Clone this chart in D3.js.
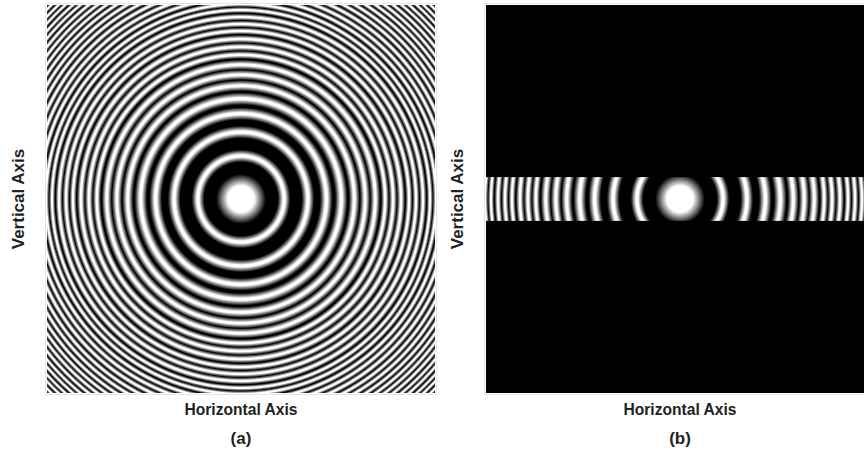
<!DOCTYPE html>
<html>
<head>
<meta charset="utf-8">
<script src="https://cdn.jsdelivr.net/npm/d3@7"></script>
<style>
  body { margin: 0; background: #fff; }
  svg { display: block; }
  text { font-family: "Liberation Sans", Arial, sans-serif; font-weight: bold; fill: #222; }
</style>
</head>
<body>
<svg id="chart" width="864" height="455"></svg>
<script>
// Radii of the bright rings, in units of the panel half-width (panel edge = 1)
const ringRadii = [
  0.222, 0.345, 0.440, 0.517, 0.584, 0.640, 0.692, 0.743, 0.784, 0.825,
  0.866, 0.902, 0.938, 0.974, 1.005, 1.038, 1.069, 1.100, 1.131, 1.160,
  1.189, 1.217, 1.244, 1.271, 1.298, 1.323, 1.349, 1.373, 1.398, 1.422
];
// Central bright spot: flat core radius and the radius where it has faded out
const spotCore = 0.068;
const spotEdge = 0.128;
// Half-height of the horizontal slit that panel (b) leaves open
const slitHalf = 0.113;
// Widest half-width a ring may have
const ringHalfMax = 0.032;

const panelLabels = ["(a)", "(b)"];
const xTitle = "Horizontal Axis";
const yTitle = "Vertical Axis";

const svg = d3.select("#chart");
const defs = svg.append("defs");

const size = 388;
const panelLefts = [47, 486];
const panelTop = 5;

// Gradient stops for the zone pattern, built from the spot and ring radii
function patternStops() {
  const stops = [
    { o: 0, v: 1 },
    { o: spotCore, v: 1 },
    { o: (spotCore + spotEdge) / 2, v: 0.5 },
    { o: spotEdge, v: 0 }
  ];
  ringRadii.forEach((r, i) => {
    const prev = i === 0 ? spotEdge : ringRadii[i - 1];
    const next = i === ringRadii.length - 1 ? r + (r - prev) : ringRadii[i + 1];
    const hw = Math.min(ringHalfMax, (r - prev) / 2, (next - r) / 2);
    stops.push({ o: r - hw, v: 0 });
    stops.push({ o: r - hw * 0.5, v: 0.6 });
    stops.push({ o: r - hw * 0.18, v: 1 });
    stops.push({ o: r + hw * 0.18, v: 1 });
    stops.push({ o: r + hw * 0.5, v: 0.6 });
    stops.push({ o: r + hw, v: 0 });
  });
  return stops;
}

const stops = patternStops();
const gray = d3.scaleLinear().domain([0, 1]).range(["#000", "#fff"]);

panelLabels.forEach((label, p) => {
  const x = d3.scaleLinear().domain([-1, 1]).range([panelLefts[p], panelLefts[p] + size]);
  const y = d3.scaleLinear().domain([-1, 1]).range([panelTop + size, panelTop]);
  const rPix = d => x(d) - x(0);
  const outer = ringRadii[ringRadii.length - 1] + 0.05;
  const R = rPix(outer);

  const grad = defs.append("radialGradient")
    .attr("id", "zone-" + p)
    .attr("gradientUnits", "userSpaceOnUse")
    .attr("cx", x(0)).attr("cy", y(0))
    .attr("fx", x(0)).attr("fy", y(0))
    .attr("r", R);
  grad.selectAll("stop").data(stops).join("stop")
    .attr("offset", d => Math.max(0, Math.min(1, rPix(d.o) / R)))
    .attr("stop-color", d => gray(d.v));

  const g = svg.append("g");

  // light frame around the image area
  g.append("rect")
    .attr("x", x(-1) - 1.5).attr("y", y(1) - 1.5)
    .attr("width", size + 3).attr("height", size + 3)
    .attr("fill", "none").attr("stroke", "#e4e4e4").attr("stroke-width", 1);

  if (p === 0) {
    g.append("rect")
      .attr("x", x(-1)).attr("y", y(1))
      .attr("width", size).attr("height", size)
      .attr("fill", `url(#zone-${p})`);
  } else {
    g.append("rect")
      .attr("x", x(-1)).attr("y", y(1))
      .attr("width", size).attr("height", size)
      .attr("fill", "#000");
    g.append("rect")
      .attr("x", x(-1)).attr("y", y(slitHalf))
      .attr("width", size).attr("height", y(-slitHalf) - y(slitHalf))
      .attr("fill", `url(#zone-${p})`);
  }

  const cx = x(0);

  g.append("text")
    .attr("x", cx).attr("y", 415)
    .attr("text-anchor", "middle")
    .attr("font-size", 17)
    .attr("textLength", 113).attr("lengthAdjust", "spacingAndGlyphs")
    .text(xTitle);

  g.append("text")
    .attr("x", cx).attr("y", 444)
    .attr("text-anchor", "middle")
    .attr("font-size", 17)
    .text(label);

  g.append("text")
    .attr("transform", `translate(${x(-1) - 23},${y(0)}) rotate(-90)`)
    .attr("text-anchor", "middle")
    .attr("font-size", 17)
    .text(yTitle);
});
</script>
</body>
</html>
